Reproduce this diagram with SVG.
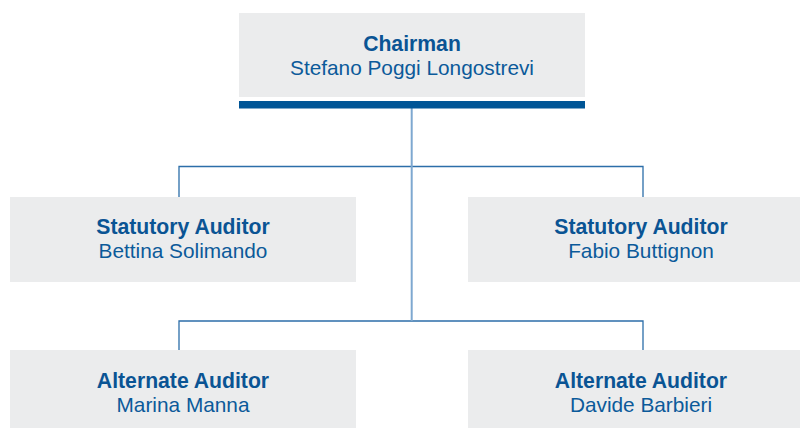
<svg xmlns="http://www.w3.org/2000/svg" width="800" height="428" viewBox="0 0 800 428">
<style>
.box{fill:#ebeced}
.t{font-family:"Liberation Sans",Arial,sans-serif;font-size:20.8px;fill:#0b5a9a;text-anchor:middle}
.b{font-weight:bold;font-size:21.2px;fill:#0a5494}
.ln{fill:none;stroke:#2c6ea9;stroke-width:1.3}
.tr{fill:none;stroke:#7ea8d0;stroke-width:2}
</style>
<rect width="800" height="428" fill="#ffffff"/>
<g id="connectors">
<polyline class="ln" points="179,197 179,166.5 643,166.5 643,197"/>
<polyline class="ln" points="179,350 179,321 643,321 643,350"/>
<line class="tr" x1="411.7" y1="108" x2="411.7" y2="321"/>
</g>
<g id="chairman">
<rect class="box" x="239" y="13" width="346" height="84"/>
<rect x="239" y="101" width="346" height="7.5" fill="#005596"/>
<text class="t b" x="412" y="51">Chairman</text>
<text class="t" x="412" y="75">Stefano Poggi Longostrevi</text>
</g>
<g id="statutory1">
<rect class="box" x="10" y="197" width="346" height="85"/>
<text class="t b" x="183" y="234">Statutory Auditor</text>
<text class="t" x="183" y="258">Bettina Solimando</text>
</g>
<g id="statutory2">
<rect class="box" x="468" y="197" width="346" height="85"/>
<text class="t b" x="641" y="234">Statutory Auditor</text>
<text class="t" x="641" y="258">Fabio Buttignon</text>
</g>
<g id="alternate1">
<rect class="box" x="10" y="350" width="346" height="85"/>
<text class="t b" x="183" y="388">Alternate Auditor</text>
<text class="t" x="183" y="412">Marina Manna</text>
</g>
<g id="alternate2">
<rect class="box" x="468" y="350" width="346" height="85"/>
<text class="t b" x="641" y="388">Alternate Auditor</text>
<text class="t" x="641" y="412">Davide Barbieri</text>
</g>
</svg>
